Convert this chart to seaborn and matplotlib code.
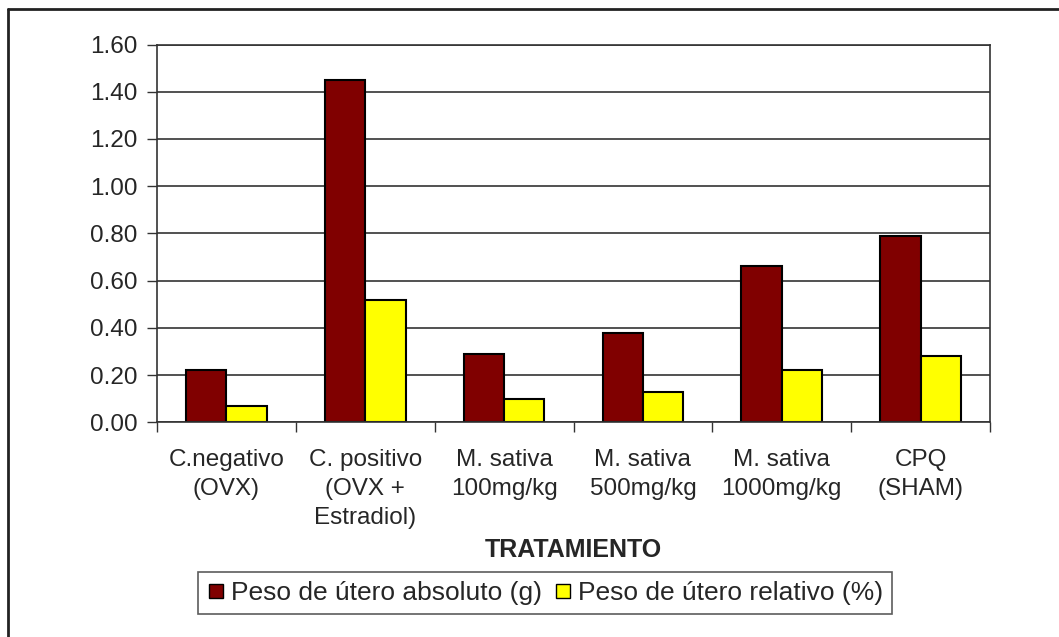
import matplotlib

matplotlib.use("Agg")
import matplotlib.pyplot as plt
import pandas as pd
import seaborn as sns
from matplotlib.lines import Line2D

categories = [
    "C.negativo\n(OVX)",
    "C. positivo\n(OVX +\nEstradiol)",
    "M. sativa\n100mg/kg",
    "M. sativa\n500mg/kg",
    "M. sativa\n1000mg/kg",
    "CPQ\n(SHAM)",
]
absoluto = [0.22, 1.45, 0.29, 0.38, 0.66, 0.79]
relativo = [0.07, 0.52, 0.10, 0.13, 0.22, 0.28]
series_names = ["Peso de útero absoluto (g)", "Peso de útero relativo (%)"]
colors = ["#800000", "#ffff00"]
y_ticks = [0.0, 0.2, 0.4, 0.6, 0.8, 1.0, 1.2, 1.4, 1.6]

df = pd.DataFrame({
    "tratamiento": categories * 2,
    "serie": [series_names[0]] * len(categories) + [series_names[1]] * len(categories),
    "valor": absoluto + relativo,
})

sns.set_style("white")
plt.rcParams["font.family"] = ["Liberation Sans", "DejaVu Sans"]

W, H = 1059, 637
FS = 17.5
fig = plt.figure(figsize=(W / 100, H / 100), dpi=100)
ax_bottom, ax_top = 422.3, 44.5
ax = fig.add_axes([157 / W, 1 - ax_bottom / H, (990 - 157) / W, (ax_bottom - ax_top) / H])

sns.barplot(data=df, x="tratamiento", y="valor", hue="serie", palette=colors,
            width=0.58, edgecolor="black", linewidth=1.5, ax=ax, legend=False,
            saturation=1)

ax.set_xlim(-0.5, len(categories) - 0.5)
ax.set_ylim(0, 1.6)
ax.set_yticks(y_ticks)
ax.set_yticklabels([f"{v:.2f}" for v in y_ticks], fontsize=FS)
ax.yaxis.grid(True, color="#333333", linewidth=1.2)
ax.set_axisbelow(True)
ax.tick_params(axis="y", left=True, length=7, width=1, color="#333333", pad=7)

# tick marks on category boundaries, labels at centers
ax.set_xticks([i - 0.5 for i in range(len(categories) + 1)])
ax.set_xticklabels([""] * (len(categories) + 1))
ax.tick_params(axis="x", which="major", bottom=True, length=7, width=1, color="#333333")
ax.set_xticks(range(len(categories)), minor=True)
ax.set_xticklabels(categories, minor=True, fontsize=FS, linespacing=1.42, va="top")
ax.tick_params(axis="x", which="minor", length=0, pad=19)

for sp in ax.spines.values():
    sp.set_visible(True)
    sp.set_color("#333333")
    sp.set_linewidth(1.2)

ax.set_xlabel("TRATAMIENTO", fontsize=18, fontweight="bold")
ax.xaxis.set_label_coords(0.5, (ax_bottom - 538) / (ax_bottom - ax_top))
ax.set_ylabel("")

handles = [Line2D([], [], marker="s", linestyle="", markersize=10,
                  markerfacecolor=c, markeredgecolor="black", markeredgewidth=1)
           for c in colors]
leg = fig.legend(handles, series_names, loc="center", bbox_to_anchor=(545 / W, 1 - 593 / H),
                 ncol=2, fontsize=19, frameon=True, fancybox=False, handletextpad=0.2,
                 columnspacing=0.45, borderpad=0.35, handlelength=0.7)
leg.get_frame().set_edgecolor("#333333")
leg.get_frame().set_linewidth(1.2)

# outer chart border (left and top visible)
fig.add_artist(Line2D([8 / W, 8 / W], [0, 1 - 8.5 / H], transform=fig.transFigure,
                      color="#222222", linewidth=2))
fig.add_artist(Line2D([8 / W, 1], [1 - 8.5 / H, 1 - 8.5 / H], transform=fig.transFigure,
                      color="#222222", linewidth=2))

fig.savefig("out.png", dpi=100)
